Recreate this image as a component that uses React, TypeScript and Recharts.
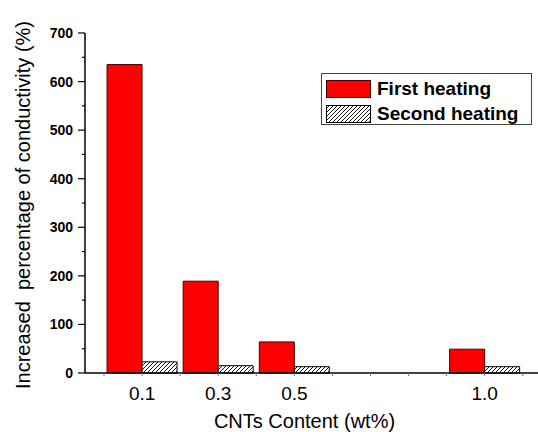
import { Bar, BarChart, Legend, XAxis, YAxis } from "recharts";

const contents = [0.1, 0.3, 0.5, 1.0];
const firstHeating = [635, 189, 64, 49];
const secondHeating = [23, 15, 13, 13];

const xTicks = [0, 0.1, 0.2, 0.3, 0.4, 0.5, 0.6, 0.7, 0.8, 0.9, 1.0, 1.1];
const xLabels: Record<string, string> = { "0.1": "0.1", "0.3": "0.3", "0.5": "0.5", "1": "1.0" };
const yTicks = [0, 50, 100, 150, 200, 250, 300, 350, 400, 450, 500, 550, 600, 650, 700];

const FONT = "'Liberation Sans', Arial, sans-serif";

const data = contents.map((c, i) => ({
  content: c,
  first: firstHeating[i],
  second: secondHeating[i],
}));

function XTick({ x, y, payload }: any) {
  const label = xLabels[String(payload.value)];
  if (!label) return null;
  return (
    <text x={x} y={y} dy={22} textAnchor="middle" fontFamily={FONT} fontSize={19} fill="#000">
      {label}
    </text>
  );
}

function YTick({ x, y, payload }: any) {
  const major = payload.value % 100 === 0;
  return (
    <g>
      <line x1={x - (major ? 7 : 3)} x2={x} y1={y} y2={y} stroke="#000" strokeWidth={1.2} />
      {major && (
        <text x={x - 12} y={y} dy={5} textAnchor="end" fontFamily={FONT} fontWeight="bold" fontSize={14} fill="#000">
          {payload.value}
        </text>
      )}
    </g>
  );
}

function HatchSwatch() {
  return (
    <svg width={45} height={18} style={{ display: "block" }}>
      <defs>
        <pattern id="hatchLegend" patternUnits="userSpaceOnUse" width={4} height={4}>
          <rect width={4} height={4} fill="#fff" />
          <path d="M-1,1 l2,-2 M0,4 l4,-4 M3,5 l2,-2" stroke="#000" strokeWidth={0.9} />
        </pattern>
      </defs>
      <rect x={0.5} y={0.5} width={44} height={17} fill="url(#hatchLegend)" stroke="#000" />
    </svg>
  );
}

function LegendBox() {
  const row = { display: "flex", alignItems: "center", height: 25 } as const;
  const text = { marginLeft: 6, fontFamily: FONT, fontWeight: "bold", fontSize: 19, color: "#000", lineHeight: "20px" } as const;
  return (
    <div style={{ border: "1.5px solid #444", padding: "2px 4px", boxSizing: "border-box", width: 211, height: 52, background: "#fff" }}>
      <div style={row}>
        <div style={{ width: 45, height: 18, background: "#ff0000", border: "1px solid #400000", boxSizing: "border-box" }} />
        <span style={text}>First heating</span>
      </div>
      <div style={row}>
        <HatchSwatch />
        <span style={text}>Second heating</span>
      </div>
    </div>
  );
}

export default function App() {
  return (
    <div style={{ position: "absolute", left: 0, top: 0, width: 538, height: 432, background: "#fff" }}>
      <BarChart
        width={538}
        height={432}
        data={data}
        margin={{ top: 33, right: 0, left: 0, bottom: 0 }}
        barSize={35}
        barGap={0}
      >
        <defs>
          <pattern id="hatch" patternUnits="userSpaceOnUse" width={4} height={4}>
            <rect width={4} height={4} fill="#fff" />
            <path d="M-1,1 l2,-2 M0,4 l4,-4 M3,5 l2,-2" stroke="#000" strokeWidth={0.9} />
          </pattern>
        </defs>
        <XAxis
          xAxisId="b"
          dataKey="content"
          type="number"
          domain={[-0.05, 1.14]}
          ticks={xTicks}
          interval={0}
          height={59}
          tickSize={3}
          tickMargin={2}
          stroke="#000"
          axisLine={{ stroke: "#000", strokeWidth: 1.5 }}
          tickLine={{ stroke: "#777" }}
          tick={<XTick />}
          label={{
            content: ({ viewBox }: any) => (
              <text
                x={viewBox.x + viewBox.width / 2 - 7}
                y={viewBox.y + viewBox.height - 4}
                textAnchor="middle"
                fontFamily={FONT}
                fontSize={20}
                fill="#000"
              >
                CNTs Content (wt%)
              </text>
            ),
          }}
        />
        <XAxis
          xAxisId="t"
          dataKey="content"
          type="number"
          orientation="top"
          domain={[-0.05, 1.14]}
          ticks={xTicks}
          interval={0}
          height={0}
          mirror
          tickSize={3}
          axisLine={{ stroke: "#000", strokeWidth: 1.5 }}
          tickLine={{ stroke: "#555" }}
          tickFormatter={() => ""}
        />
        <YAxis
          domain={[0, 700]}
          ticks={yTicks}
          interval={0}
          width={85}
          tickSize={0}
          tickMargin={0}
          axisLine={{ stroke: "#000", strokeWidth: 1.5 }}
          tickLine={false}
          tick={<YTick />}
          label={{
            content: ({ viewBox }: any) => {
              const cx = 30;
              const cy = viewBox.y + viewBox.height / 2 + 2;
              return (
                <text
                  x={cx}
                  y={cy}
                  transform={`rotate(-90, ${cx}, ${cy})`}
                  textAnchor="middle"
                  fontFamily={FONT}
                  fontSize={20}
                  fill="#000"
                  style={{ whiteSpace: "pre" }}
                >
                  {"Increased  percentage of conductivity (%)"}
                </text>
              );
            },
          }}
        />
        <Legend
          layout="horizontal"
          verticalAlign="middle"
          align="center"
          wrapperStyle={{ left: 321, top: 73, width: 211, height: 52 }}
          content={() => <LegendBox />}
        />
        <Bar xAxisId="b" dataKey="first" name="First heating" fill="#ff0000" stroke="#400000" strokeWidth={1} isAnimationActive={false} />
        <Bar xAxisId="b" dataKey="second" name="Second heating" fill="url(#hatch)" stroke="#000" strokeWidth={1} isAnimationActive={false} />
      </BarChart>
    </div>
  );
}
